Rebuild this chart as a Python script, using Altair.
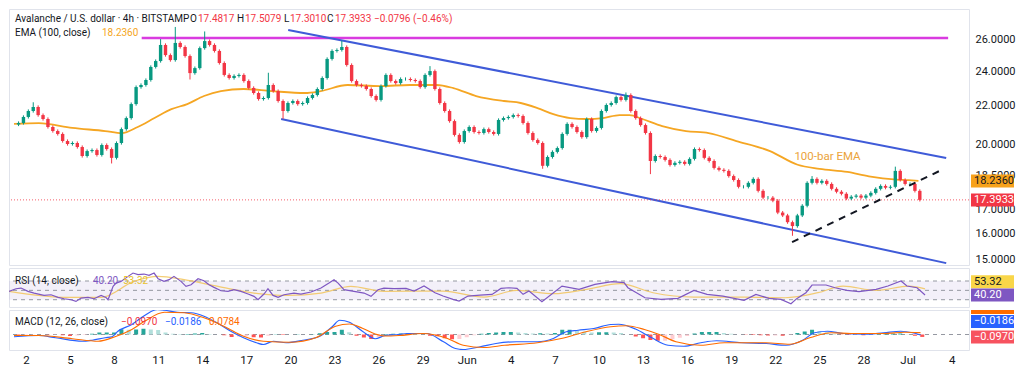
import altair as alt
import pandas as pd

FONT = "Roboto"

# ---------------- data ----------------
# day axis: May 2 = 2, Jun 1 = 32, Jul 1 = 62 ; candles every 8 hours
close = [21.08, 21.40, 21.72, 21.94, 21.50, 21.29, 20.87, 20.66, 20.51, 20.15,
         20.00, 20.05, 19.85, 19.41, 19.65, 19.70, 19.46, 19.95, 19.75, 19.32,
         20.05, 20.76, 21.34, 22.10, 23.06, 23.18, 23.47, 24.25, 24.61, 25.62,
         24.98, 24.67, 25.75, 25.49, 24.92, 23.88, 24.18, 25.42, 25.87, 25.62,
         25.24, 24.49, 23.77, 23.59, 23.71, 23.77, 23.41, 23.01, 22.72, 22.38,
         22.44, 23.18, 22.83, 22.27, 21.72, 22.16, 22.27, 22.10, 22.16, 22.44,
         22.61, 22.95, 23.59, 24.74, 25.24, 25.30, 25.49, 24.37, 23.41, 23.18,
         23.12, 22.95, 22.55, 22.33, 23.12, 23.77, 23.41, 23.29, 23.53, 23.53,
         23.47, 23.41, 23.06, 23.77, 24.00, 22.95, 22.16, 21.72, 21.18, 20.46,
         20.10, 20.66, 20.87, 20.61, 20.56, 20.76, 20.61, 20.51, 21.24, 21.34,
         21.40, 21.50, 21.45, 21.08, 20.56, 20.20, 20.05, 18.94, 19.36, 19.61,
         19.80, 20.51, 21.03, 20.87, 20.61, 20.35, 21.29, 20.66, 20.82, 21.72,
         22.05, 22.16, 22.49, 22.33, 22.61, 21.72, 21.34, 20.97, 20.56, 19.17,
         19.41, 19.36, 19.22, 18.98, 19.08, 19.13, 19.03, 19.27, 19.75, 19.70,
         19.32, 19.17, 18.84, 18.75, 18.70, 18.46, 18.28, 17.97, 17.97, 18.15,
         18.33, 17.79, 17.49, 17.49, 17.36, 16.85, 16.73, 16.45, 16.29, 16.73,
         17.14, 18.15, 18.33, 18.15, 18.24, 18.10, 17.88, 17.75, 17.66, 17.45,
         17.53, 17.58, 17.49, 17.58, 17.70, 17.88, 18.01, 17.93, 17.97, 18.70,
         18.28, 18.10, 18.10, 17.79, 17.3933]
first_open = 21.00
last_day = 62.833
high_spikes = {3: 22.20, 29: 26.00, 32: 26.80, 38: 26.50, 51: 23.90, 66: 25.90,
               84: 24.30, 124: 22.75, 162: 18.46, 179: 18.90}
low_spikes = {19: 19.05, 35: 23.50, 54: 21.30, 107: 18.80, 129: 18.55, 158: 15.90}
wick = 0.004  # typical small wick

ema_day = [1.19, 2.88, 5.16, 7.39, 8.53, 9.61, 10.75, 11.90, 12.98, 14.12, 15.27,
           16.81, 18.70, 20.99, 22.07, 23.89, 26.11, 28.13, 29.95, 31.09, 32.64,
           34.53, 35.67, 36.81, 37.89, 39.04, 40.18, 41.26, 42.40, 43.08, 43.95,
           45.30, 46.92, 48.46, 50.35, 52.64, 54.52, 56.01, 57.89, 59.37, 61.26,
           62.07, 62.74]
ema_val = [21.03, 21.07, 20.82, 20.66, 20.55, 20.87, 21.34, 21.82, 22.10, 22.55, 22.83,
           22.95, 22.83, 22.72, 22.83, 23.18, 23.12, 23.18, 23.18, 23.00, 22.55,
           22.27, 22.16, 21.88, 21.55, 21.34, 21.29, 21.34, 21.50, 21.50, 21.29,
           20.92, 20.66, 20.55, 20.15, 19.65, 18.99, 18.80, 18.65, 18.45, 18.30,
           18.27, 18.236]

rsi_day = [1.19, 1.66, 2.00, 2.47, 2.88, 3.55, 4.02, 4.49, 4.90, 5.37, 5.70, 6.04,
           6.51, 6.92, 7.39, 7.72, 7.86, 8.20, 8.40, 8.73, 9.21, 9.54, 9.88, 10.28,
           10.62, 10.96, 11.23, 11.63, 11.97, 12.30, 12.77, 13.11, 13.45, 13.92,
           14.32, 14.66, 15.00, 15.47, 15.94, 16.34, 16.81, 17.29, 17.69, 17.96,
           18.36, 18.63, 18.97, 19.31, 19.71, 20.38, 20.85, 21.53, 22.20, 22.74,
           23.08, 23.35, 23.75, 24.42, 25.10, 25.57, 26.04, 26.44, 27.12, 27.93,
           28.47, 29.14, 29.88, 30.42, 31.09, 31.50, 32.10, 32.91, 33.72, 34.32,
           34.86, 35.40, 35.81, 36.21, 37.08, 38.43, 39.58, 40.65, 41.80, 42.61,
           42.87, 44.02, 45.10, 46.24, 47.32, 48.20, 49.27, 50.69, 51.49, 52.37,
           53.18, 53.85, 54.26, 54.86, 55.27, 56.21, 56.82, 57.62, 58.43, 59.58,
           60.38, 61.26, 61.66, 62.34, 62.88]
rsi_val = [47.8, 53.5, 54.9, 47.8, 44.2, 39.2, 40.6, 34.9, 32.1, 29.9, 26.4, 33.5,
           34.9, 32.1, 39.2, 34.9, 29.9, 58.5, 65.6, 69.2, 79.9, 87.0, 83.5, 84.9,
           82.0, 87.0, 74.9, 69.2, 72.8, 79.9, 69.2, 58.5, 62.0, 74.9,
           70.6, 62.0, 56.4, 49.2, 47.8, 51.4, 47.8, 42.1, 37.1, 29.9,
           42.1, 53.5, 39.2, 34.9, 40.6, 44.2, 42.1, 46.4, 54.9, 65.6,
           72.8, 65.6, 51.4, 47.8, 44.2, 37.1, 51.4, 54.9, 53.5, 54.2,
           48.5, 59.2, 45.0, 37.8, 30.7, 27.1, 37.8, 39.9, 41.4, 54.2,
           55.6, 54.2, 41.4, 48.5, 25.6, 59.2, 52.1, 62.8, 68.5, 66.4,
           55.6, 34.2, 30.7, 32.8, 50.0, 41.4, 37.8, 28.5, 41.4, 32.8,
           30.7, 21.4, 32.8, 45.0, 61.4, 61.4, 55.6, 50.0, 47.1, 52.1,
           59.2, 69.9, 59.2, 55.6, 40.2]
rsima_day = [1.19, 5.16, 7.39, 9.61, 11.23, 12.98, 15.27, 17.69, 19.98, 22.20, 24.22,
             26.44, 30.42, 33.18, 35.40, 37.89, 40.11, 42.34, 44.56, 47.32, 50.69,
             53.45, 55.67, 57.36, 59.58, 61.80, 62.88]
rsima_val = [47.8, 34.9, 34.9, 69.2, 79.9, 72.8, 58.5, 44.2, 39.2, 44.2, 58.5,
             47.8, 48.5, 35.6, 49.9, 42.8, 52.1, 64.2, 44.9, 35.6, 35.6,
             34.2, 45.0, 59.2, 49.9, 59.2, 53.32]

macd_day = [1.19, 2.88, 4.02, 5.84, 6.51, 7.39, 7.86, 8.26, 9.21, 10.08, 10.96, 11.43,
            12.30, 13.25, 14.12, 15.00, 15.94, 16.81, 17.69, 18.16, 18.84, 19.71,
            20.85, 22.00, 22.88, 23.35, 24.02, 24.90, 25.77, 26.44, 27.39, 27.93,
            29.27, 30.42, 31.23, 31.76, 32.91, 33.99, 35.40, 36.81, 37.89, 38.77,
            39.58, 40.65, 41.80, 42.34, 43.48, 44.56, 45.70, 46.78, 47.93, 49.00,
            50.69, 52.37, 53.72, 54.86, 55.67, 56.55, 57.62, 59.04, 60.38, 61.53,
            62.34, 62.88]
macd_val = [-0.09, -0.04, -0.13, -0.27, -0.23, -0.13, -0.09, 0.13, 0.40, 0.76, 1.00, 0.97,
            0.89, 0.87, 0.73, 0.47, 0.13, -0.13, -0.33, -0.40, -0.27, -0.33,
            -0.23, -0.07, 0.33, 0.57, 0.49, 0.13, -0.17, -0.04, 0.00, 0.04,
            0.04, -0.29, -0.56, -0.60, -0.49, -0.36, -0.29, -0.29, -0.16, 0.11,
            0.17, 0.24, 0.40, 0.41, 0.22, -0.12, -0.43, -0.47, -0.33, -0.25,
            -0.33, -0.36, -0.43, -0.23, 0.07, 0.13, 0.04, 0.01, 0.07, 0.13,
            0.07, -0.0186]
sig_day = [1.19, 2.88, 5.16, 6.92, 8.06, 9.21, 10.08, 11.43, 12.77, 14.12, 15.47,
           16.81, 18.16, 19.98, 21.73, 23.08, 24.02, 24.90, 25.77, 26.44, 27.39,
           29.00, 30.69, 31.76, 33.18, 34.59, 36.81, 38.43, 40.11, 41.80, 42.87,
           44.09, 45.10, 46.24, 47.93, 49.54, 52.37, 53.99, 55.40, 56.82, 58.16,
           60.38, 61.80, 62.88]
sig_val = [-0.04, -0.04, -0.17, -0.27, -0.09, 0.20, 0.53, 0.89, 0.87, 0.67, 0.33,
           -0.07, -0.27, -0.31, -0.13, 0.33, 0.42, 0.25, 0.02, -0.06, -0.04,
           0.04, -0.16, -0.43, -0.52, -0.43, -0.33, -0.16, 0.11, 0.31, 0.35,
           0.20, 0.00, -0.29, -0.43, -0.33, -0.33, -0.39, -0.12, 0.07, 0.04,
           0.04, 0.09, 0.0784]
# histogram every 12 hours starting at day 1.5
hist_val = [-0.04, -0.03, -0.01, 0.00, -0.01, -0.01, -0.03, -0.06, -0.04, -0.02,
            0.03, 0.08, 0.08, 0.08, 0.21, 0.19, 0.20, 0.23, 0.20, 0.18,
            0.08, 0.03, 0.02, 0.02, 0.04, 0.06, 0.02, 0.00, -0.03, -0.10,
            -0.08, -0.07, -0.11, -0.12, -0.05, 0.01, -0.02, 0.00, 0.01, 0.00,
            0.01, 0.05, 0.10, 0.10, 0.19, 0.09, -0.05, -0.12, -0.18, -0.10,
            0.02, 0.03, 0.04, 0.04, 0.02, 0.00, -0.05, -0.07, -0.15, -0.19,
            -0.18, -0.11, -0.03, 0.03, 0.06, 0.08, 0.10, 0.10, 0.08, 0.06,
            0.04, 0.05, 0.04, 0.06, 0.19, 0.19, 0.17, 0.11, 0.08, 0.09,
            0.09, 0.08, 0.06, 0.00, -0.08, -0.15, -0.22, -0.25, -0.25, -0.19,
            -0.13, -0.06, 0.04, 0.10, 0.10, 0.10, 0.06, 0.03, 0.00, -0.01,
            -0.02, -0.03, -0.04, -0.04, -0.05, -0.01, 0.06, 0.12, 0.19, 0.13,
            0.09, 0.03, -0.01, -0.02, -0.02, -0.03, -0.01, 0.01, 0.03, 0.04,
            0.04, 0.01, -0.05, -0.097]

resistance = 26.07
res_from, res_to = 9.88, 64.76
chan_upper = [(19.85, 26.60), (64.63, 19.31)]
chan_lower = [(19.37, 21.29), (64.63, 14.85)]
support = [(54.14, 15.65), (64.18, 18.70)]
last_price = 17.3933
ema_last = 18.236
rsi_last, rsima_last = 40.20, 53.32
macd_last, sig_last, hist_last = -0.0186, 0.0784, -0.0970
x_ticks = list(range(2, 66, 3))
price_ticks = [15, 16, 17, 18.5, 20, 22, 24, 26]

# ---------------- frames ----------------
n = len(close)
rows = []
for i, c in enumerate(close):
    o = first_open if i == 0 else close[i - 1]
    hi = high_spikes.get(i, max(o, c) * (1 + wick))
    lo = low_spikes.get(i, min(o, c) * (1 - wick))
    rows.append({"day": last_day - (n - 1 - i) / 3, "open": o, "close": c,
                 "high": hi, "low": lo, "dir": "up" if c >= o else "down"})
candles = pd.DataFrame(rows)
ema_df = pd.DataFrame({"day": ema_day, "v": ema_val})
rsi_df = pd.DataFrame({"day": rsi_day, "v": rsi_val})
rsima_df = pd.DataFrame({"day": rsima_day, "v": rsima_val})
macd_df = pd.DataFrame({"day": macd_day, "v": macd_val})
sig_df = pd.DataFrame({"day": sig_day, "v": sig_val})
hrows = []
prev = 0.0
for j, h in enumerate(hist_val):
    if h >= 0:
        col = "#26a69a" if h >= prev else "#b2dfdb"
    else:
        col = "#ff5252" if h < prev else "#ffcdd2"
    hrows.append({"day": 1.5 + 0.5 * j, "v": h, "zero": 0.0, "col": col})
    prev = h
hist_df = pd.DataFrame(hrows)

W = 960
H_MAIN, H_RSI, H_MACD = 256, 39, 40
xscale = alt.Scale(domain=[1.19, 65.84], nice=False, zero=False)
yscale = alt.Scale(type="log", domain=[14.78, 28.03], nice=False)
yaxis = alt.Axis(orient="right", values=price_ticks,
                 format=".4f", grid=False, ticks=False, domain=False,
                 labelFontSize=11, labelColor="#131722", labelPadding=6,
                 labelFont=FONT, title=None)
rsiscale = alt.Scale(domain=[14.4, 97.8], nice=False, zero=False)
macdscale = alt.Scale(domain=[-0.62, 0.98], nice=False, zero=False)
xaxis_bottom = alt.Axis(values=x_ticks, grid=False, ticks=False, domain=False,
                        labelFontSize=11.5, labelColor="#131722", labelPadding=4,
                        labelFont=FONT, title=None,
                        labelExpr="datum.value == 32 ? 'Jun' : datum.value == 62 ? 'Jul' : "
                                  "datum.value > 62 ? '' + (datum.value - 61) : "
                                  "datum.value > 31 ? '' + (datum.value - 31) : '' + datum.value")

one = pd.DataFrame({"a": [0]})


def X(field, axis=None):
    return alt.X(field, type="quantitative", scale=xscale, axis=axis, title=None)


def text_at(txt, px, py, color, size=10):
    return alt.Chart(one).mark_text(align="left", baseline="middle", fontSize=size,
                                    color=color, font=FONT, clip=False).encode(
        x=alt.value(px), y=alt.value(py), text=alt.value(txt))


def tag(val, label, bg, fg, ysc, yax, shift=0.0, h=13):
    d = pd.DataFrame({"v": [val], "t": [label]})
    yy = alt.Y("v:Q", scale=ysc, axis=yax, title=None)
    r = alt.Chart(d).mark_rect(color=bg, clip=False, yOffset=shift - h / 2,
                               y2Offset=shift + h / 2).encode(
        x=alt.value(W + 2), x2=alt.value(W + 45), y=yy, y2="v:Q")
    t = alt.Chart(d).mark_text(color=fg, align="left", baseline="middle", fontSize=11,
                               font=FONT, clip=False, yOffset=shift).encode(
        x=alt.value(W + 5), y=yy, text="t:N")
    return r + t


def Ym(field):
    return alt.Y(field, type="quantitative", scale=yscale, axis=yaxis, title=None)


GREEN, RED = "#089981", "#f23645"
color_dir = alt.Color("dir:N", scale=alt.Scale(domain=["up", "down"], range=[GREEN, RED]),
                      legend=None)
cbase = alt.Chart(candles)
wicks = cbase.mark_rule(strokeWidth=1, clip=True).encode(
    x=X("day"), y=Ym("low"), y2="high", color=color_dir)
bodies = cbase.mark_bar(width=3.4, clip=True).encode(
    x=X("day"), y=Ym("open"), y2="close", color=color_dir)
ema_line = alt.Chart(ema_df).mark_line(color="#f5a623", strokeWidth=1.8,
                                       interpolate="monotone", clip=True).encode(
    x=X("day"), y=Ym("v"))

res_df = pd.DataFrame({"x1": [res_from], "x2": [res_to], "y": [resistance]})
res_line = alt.Chart(res_df).mark_rule(color="#d93be0", strokeWidth=2.5).encode(
    x=X("x1"), x2="x2", y=Ym("y"))
chan_df = pd.DataFrame({"x1": [chan_upper[0][0], chan_lower[0][0]],
                        "y1": [chan_upper[0][1], chan_lower[0][1]],
                        "x2": [chan_upper[1][0], chan_lower[1][0]],
                        "y2": [chan_upper[1][1], chan_lower[1][1]]})
chan_lines = alt.Chart(chan_df).mark_rule(color="#3f5bd8", strokeWidth=2).encode(
    x=X("x1"), y=Ym("y1"), x2="x2", y2="y2")
sup_df = pd.DataFrame({"x1": [support[0][0]], "y1": [support[0][1]],
                       "x2": [support[1][0]], "y2": [support[1][1]]})
sup_line = alt.Chart(sup_df).mark_rule(color="#131722", strokeWidth=2,
                                       strokeDash=[7, 6]).encode(
    x=X("x1"), y=Ym("y1"), x2="x2", y2="y2")
lp_line = alt.Chart(pd.DataFrame({"y": [last_price]})).mark_rule(
    color=RED, strokeWidth=1, strokeDash=[1, 2], opacity=0.8).encode(y=Ym("y"))
ema_lbl = alt.Chart(pd.DataFrame({"day": [56.55], "v": [19.36], "t": ["100-bar EMA"]})).mark_text(
    color="#eba33a", fontSize=11.5, font=FONT).encode(x=X("day"), y=Ym("v"), text="t:N")

HY, EY = 9.5, 23.5
header = (text_at("Avalanche / U.S. dollar · 4h · BITSTAMP", 6, HY, "#131722")
          + text_at("O", 181, HY, "#131722") + text_at("17.4817", 189, HY, RED)
          + text_at("H", 228, HY, "#131722") + text_at("17.5079", 236, HY, RED)
          + text_at("L", 275, HY, "#131722") + text_at("17.3010", 281, HY, RED)
          + text_at("C", 318, HY, "#131722") + text_at("17.3933", 326, HY, RED)
          + text_at("−0.0796 (−0.46%)", 365, HY, RED)
          + text_at("EMA (100, close)", 6, EY, "#131722")
          + text_at("18.2360", 93, EY, "#f5a623"))

main = alt.layer(
    res_line, chan_lines, lp_line, ema_line, wicks, bodies, sup_line, ema_lbl, header,
    tag(ema_last, "18.2360", "#f7a21b", "#131722", yscale, yaxis),
    tag(last_price, "17.3933", RED, "white", yscale, yaxis),
).properties(width=W, height=H_MAIN)

# ---------------- RSI pane ----------------
def Yr(field):
    return alt.Y(field, type="quantitative", scale=rsiscale, axis=None, title=None)


band = alt.Chart(pd.DataFrame({"lo": [30], "hi": [70]})).mark_rect(
    color="#7e57c2", opacity=0.09).encode(x=alt.value(0), x2=alt.value(W), y=Yr("lo"), y2="hi")
levels = alt.Chart(pd.DataFrame({"v": [30, 50, 70]})).mark_rule(
    color="#9598a1", strokeDash=[4, 4], strokeWidth=1).encode(y=Yr("v"))
rsi_line = alt.Chart(rsi_df).mark_line(color="#7e57c2", strokeWidth=1.2, clip=True).encode(
    x=X("day"), y=Yr("v"))
rsima_line = alt.Chart(rsima_df).mark_line(color="#f2c45a", strokeWidth=1.2, opacity=0.85,
                                           interpolate="monotone", clip=True).encode(
    x=X("day"), y=Yr("v"))
rsi_title = (text_at("RSI (14, close)", 6, 13, "#131722", 10)
             + text_at("40.20", 84, 13, "#7e57c2", 10)
             + text_at("53.32", 114, 13, "#e8c22f", 10))
rsi = alt.layer(
    band, levels, rsima_line, rsi_line, rsi_title,
    tag(rsima_last, "53.32", "#f9d649", "#131722", rsiscale, None, shift=-7),
    tag(rsi_last, "40.20", "#7e57c2", "white", rsiscale, None),
).properties(width=W, height=H_RSI)

# ---------------- MACD pane ----------------
def Yd(field):
    return alt.Y(field, type="quantitative", scale=macdscale, axis=None, title=None)


zero_line = alt.Chart(pd.DataFrame({"v": [0.0]})).mark_rule(
    color="#9598a1", strokeDash=[4, 4], strokeWidth=1).encode(y=Yd("v"))
hist_bars = alt.Chart(hist_df).mark_bar(width=4, clip=True).encode(
    x=X("day", xaxis_bottom), y=Yd("v"), y2="zero", color=alt.Color("col:N", scale=None))
macd_line = alt.Chart(macd_df).mark_line(color="#2962ff", strokeWidth=1.2,
                                         interpolate="monotone", clip=True).encode(
    x=X("day", xaxis_bottom), y=Yd("v"))
sig_line = alt.Chart(sig_df).mark_line(color="#ff6d00", strokeWidth=1.2,
                                       interpolate="monotone", clip=True).encode(
    x=X("day", xaxis_bottom), y=Yd("v"))
macd_title = (text_at("MACD (12, 26, close)", 6, 12, "#131722", 10)
              + text_at("−0.0970", 112, 12, "#f23645", 10)
              + text_at("−0.0186", 156, 12, "#2962ff", 10)
              + text_at("0.0784", 200, 12, "#ff6d00", 10))
sig_stub = alt.Chart(one).mark_rect(color="#ff6d00", clip=False).encode(
    x=alt.value(W + 2), x2=alt.value(W + 45), y=alt.value(0), y2=alt.value(4))
macd = alt.layer(
    zero_line, hist_bars, macd_line, sig_line, macd_title, sig_stub,
    tag(hist_last, "−0.0970", "#f7525f", "white", macdscale, None),
    tag(macd_last, "−0.0186", "#2962ff", "white", macdscale, None, shift=-13.5),
).properties(width=W, height=H_MACD)

chart = alt.vconcat(main, rsi, macd, spacing=1).properties(padding=0).configure(
    background="#ffffff").configure_view(stroke="#e0e3eb", strokeWidth=1)

chart.save("out.html", embed_options={"renderer": "svg", "actions": False})
